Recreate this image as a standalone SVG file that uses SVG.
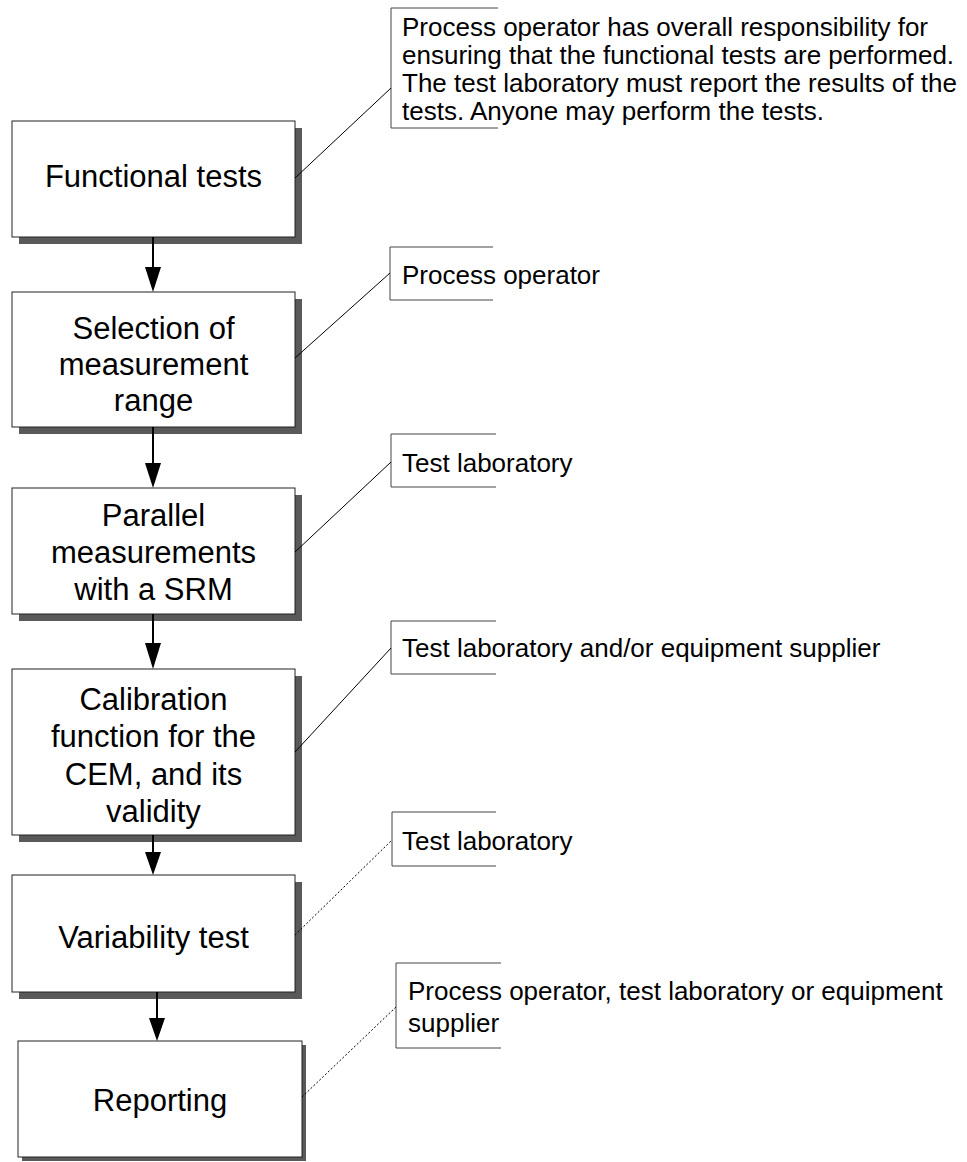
<svg xmlns="http://www.w3.org/2000/svg" width="967" height="1162" viewBox="0 0 967 1162">
<style>
.shadow{fill:#595959}
.box{fill:#fff;stroke:#222;stroke-width:1}
.bt{font-family:"Liberation Sans",Arial,sans-serif;font-size:31px;fill:#000;text-anchor:middle}
.ct{font-family:"Liberation Sans",Arial,sans-serif;font-size:26px;fill:#000}
.br{fill:none;stroke:#444;stroke-width:1}
.lead{fill:none;stroke:#000;stroke-width:1}
.dot{stroke-dasharray:2,2}
.arr{stroke:#000;stroke-width:2;fill:none}
.head{fill:#000}
</style>
<rect width="967" height="1162" fill="#fff"/>
<g id="n1">
<rect class="shadow" x="19" y="128" width="283" height="116"/>
<rect class="box" x="12" y="121" width="283" height="116"/>
<text class="bt" x="153.5" y="187">Functional tests</text>
</g>
<g id="n2">
<rect class="shadow" x="19" y="299" width="283" height="135"/>
<rect class="box" x="12" y="292" width="283" height="135"/>
<text class="bt" x="153.5" y="339">Selection of</text>
<text class="bt" x="153.5" y="375">measurement</text>
<text class="bt" x="153.5" y="411">range</text>
</g>
<g id="n3">
<rect class="shadow" x="19" y="495" width="283" height="126"/>
<rect class="box" x="12" y="488" width="283" height="126"/>
<text class="bt" x="153.5" y="526">Parallel</text>
<text class="bt" x="153.5" y="563">measurements</text>
<text class="bt" x="153.5" y="600">with a SRM</text>
</g>
<g id="n4">
<rect class="shadow" x="19" y="676" width="283" height="166"/>
<rect class="box" x="12" y="669" width="283" height="166"/>
<text class="bt" x="153.5" y="710">Calibration</text>
<text class="bt" x="153.5" y="747">function for the</text>
<text class="bt" x="153.5" y="785">CEM, and its</text>
<text class="bt" x="153.5" y="822">validity</text>
</g>
<g id="n5">
<rect class="shadow" x="19" y="882" width="283" height="117"/>
<rect class="box" x="12" y="875" width="283" height="117"/>
<text class="bt" x="153.5" y="948">Variability test</text>
</g>
<g id="n6">
<rect class="shadow" x="22" y="1045" width="284" height="116"/>
<rect class="box" x="18" y="1041" width="284" height="116"/>
<text class="bt" x="160" y="1111">Reporting</text>
</g>
<g id="c1">
<path class="br" d="M498,8 H391 V128 H498"/>
<text class="ct" x="402" y="36">Process operator has overall responsibility for</text>
<text class="ct" x="402" y="64">ensuring that the functional tests are performed.</text>
<text class="ct" x="402" y="92">The test laboratory must report the results of the</text>
<text class="ct" x="402" y="120">tests. Anyone may perform the tests.</text>
</g>
<g id="c2">
<path class="br" d="M493,247 H390 V300 H493"/>
<text class="ct" x="402" y="284">Process operator</text>
</g>
<g id="c3">
<path class="br" d="M496,434 H391 V487 H496"/>
<text class="ct" x="402" y="472">Test laboratory</text>
</g>
<g id="c4">
<path class="br" d="M496,621 H391 V674 H496"/>
<text class="ct" x="402" y="657">Test laboratory and/or equipment supplier</text>
</g>
<g id="c5">
<path class="br" d="M496,812 H392 V866 H496"/>
<text class="ct" x="402" y="850">Test laboratory</text>
</g>
<g id="c6">
<path class="br" d="M501,963 H396 V1048 H501"/>
<text class="ct" x="408" y="1000">Process operator, test laboratory or equipment</text>
<text class="ct" x="408" y="1032">supplier</text>
</g>
<g id="connectors">
<line class="arr" x1="153" y1="237" x2="153" y2="268"/>
<polygon class="head" points="145,267 161,267 153,292"/>
<line class="arr" x1="153" y1="427" x2="153" y2="464"/>
<polygon class="head" points="145,463 161,463 153,488"/>
<line class="arr" x1="153" y1="614" x2="153" y2="644"/>
<polygon class="head" points="145,643 161,643 153,669"/>
<line class="arr" x1="153" y1="835" x2="153" y2="853"/>
<polygon class="head" points="145,852 161,852 153,875"/>
<line class="arr" x1="157" y1="992" x2="157" y2="1019"/>
<polygon class="head" points="149,1018 165,1018 157,1041"/>
<line class="lead" x1="295" y1="178" x2="391" y2="88"/>
<line class="lead" x1="295" y1="358" x2="390" y2="273"/>
<line class="lead" x1="295" y1="552" x2="391" y2="462"/>
<line class="lead" x1="295" y1="752" x2="391" y2="648"/>
<line class="lead dot" x1="295" y1="935" x2="392" y2="840"/>
<line class="lead dot" x1="302" y1="1097" x2="396" y2="1007"/>
</g>
</svg>
